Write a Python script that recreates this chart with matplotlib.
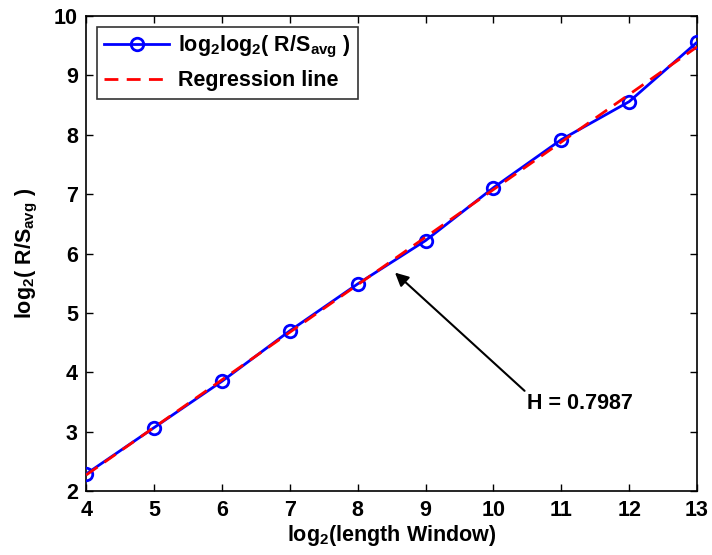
import numpy as np
import matplotlib
matplotlib.use("Agg")
import matplotlib.pyplot as plt

plt.rcParams['font.family'] = ['Liberation Sans', 'DejaVu Sans']
plt.rcParams['mathtext.fontset'] = 'custom'
plt.rcParams['mathtext.rm'] = 'Liberation Sans:bold'
plt.rcParams['mathtext.it'] = 'Liberation Sans:bold'
plt.rcParams['mathtext.bf'] = 'Liberation Sans:bold'

# log2 of window length and log2 of rescaled range
log_n = [4, 5, 6, 7, 8, 9, 10, 11, 12, 13]
log_rs = [2.29, 3.07, 3.85, 4.70, 5.49, 6.22, 7.11, 7.92, 8.56, 9.56]
hurst_label = "H = 0.7987"

x = np.array(log_n, dtype=float)
y = np.array(log_rs, dtype=float)
slope, intercept = np.polyfit(x, y, 1)
fit = slope * x + intercept

FS = 15.5

fig = plt.figure(figsize=(7.12, 5.55), dpi=100)
ax = fig.add_axes([0.121, 0.115, 0.858, 0.856])

ax.plot(x, y, '-o', color='#0000ff', lw=2, markersize=9, markerfacecolor='none',
        markeredgewidth=2, label=r'log$_2$log$_2$( R/S$_{avg}$ )', zorder=3)
ax.plot(x, fit, '--', color='#ff0000', lw=2, dashes=(5, 3), label='Regression line', zorder=4)

ax.set_xlim(4, 13)
ax.set_ylim(2, 10)
ax.set_xticks(range(4, 14))
ax.set_yticks(range(2, 11))

for lab in ax.get_xticklabels() + ax.get_yticklabels():
    lab.set_fontweight('bold')
    lab.set_fontsize(FS)
ax.tick_params(direction='in', length=5, width=1, top=True, right=True, pad=6)
for s in ax.spines.values():
    s.set_linewidth(1.2)

ax.set_xlabel(r'log$_2$(length Window)', fontsize=FS, fontweight='bold', labelpad=2)
ax.set_ylabel(r'log$_2$( R/S$_{avg}$ )', fontsize=FS, fontweight='bold', labelpad=10)

ax.annotate(hurst_label, xy=(8.55, 5.68), xytext=(10.5, 3.47),
            fontsize=FS, fontweight='bold', va='center', ha='left',
            arrowprops=dict(arrowstyle='-|>', color='black', lw=1.5, mutation_scale=20,
                            shrinkA=0, shrinkB=0, relpos=(0, 1)))

leg = ax.legend(loc='upper left', prop={'weight': 'bold', 'size': FS},
                frameon=True, fancybox=False, edgecolor='black', handlelength=3.0,
                handletextpad=0.4, borderaxespad=0.5, borderpad=0.35, labelspacing=0.45)
leg.get_frame().set_linewidth(1.2)

fig.savefig('out.png', dpi=100)
